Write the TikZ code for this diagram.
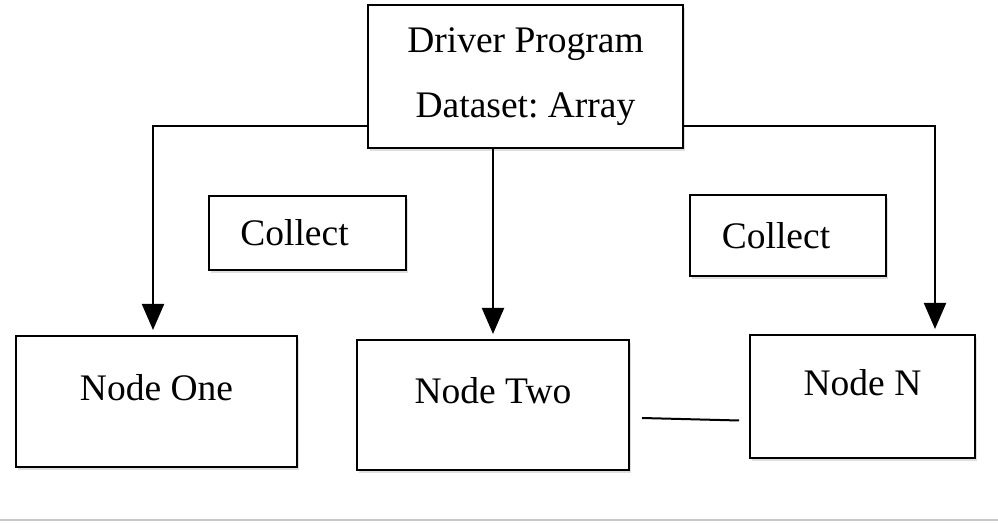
\documentclass[tikz,border=0pt]{standalone}
\usepackage{fontspec}
\setmainfont{Liberation Serif}
\usetikzlibrary{arrows.meta,shadows}

\begin{document}
\begin{tikzpicture}[x=1pt, y=1pt,
  box/.style={draw, line width=2pt, fill=white, inner sep=0pt,
    drop shadow={shadow xshift=2pt, shadow yshift=-3pt, opacity=0.25},
    font=\fontsize{37.5}{65}\selectfont, align=center},
  lowtext/.style={text depth=29pt},
  flow/.style={line width=2pt, -{Triangle[width=22pt,length=26pt]}, shorten >=5pt}]
  \useasboundingbox (0,0) rectangle (998,522);
  % driver
  \node[box, minimum width=315, minimum height=143] (driver) at (525.5,445.5) {Driver Program\\Dataset:\ Array};
  % collect labels (text sits a little left of centre)
  \node[box, minimum width=197, minimum height=74] (collectA) at (307.5,289) {Collect\hspace*{26pt}};
  \node[box, minimum width=196, minimum height=81] (collectB) at (788,286.5) {Collect\hspace*{24pt}};
  % worker nodes
  \node[box, lowtext, minimum width=281, minimum height=131] (one) at (156.5,120.5) {Node One};
  \node[box, lowtext, minimum width=272, minimum height=130] (two) at (493,117) {Node Two};
  \node[box, lowtext, minimum width=225, minimum height=123] (N) at (862.5,125.5) {Node N};
  % connectors
  \draw[flow] ([yshift=-50pt]driver.west) -| ([xshift=-3.5pt]one.north);
  \draw[flow] (two.north |- driver.south) -- (two.north);
  \draw[flow] ([yshift=-50pt]driver.east) -| ([xshift=72.5pt]N.north);
  \draw[line width=2pt] ([shift={(12pt,-13pt)}]two.east) -- ([shift={(-10pt,-24pt)}]N.west);
  % bottom rule
  \fill[black!22] (0,1) rectangle (998,3);
\end{tikzpicture}
\end{document}
